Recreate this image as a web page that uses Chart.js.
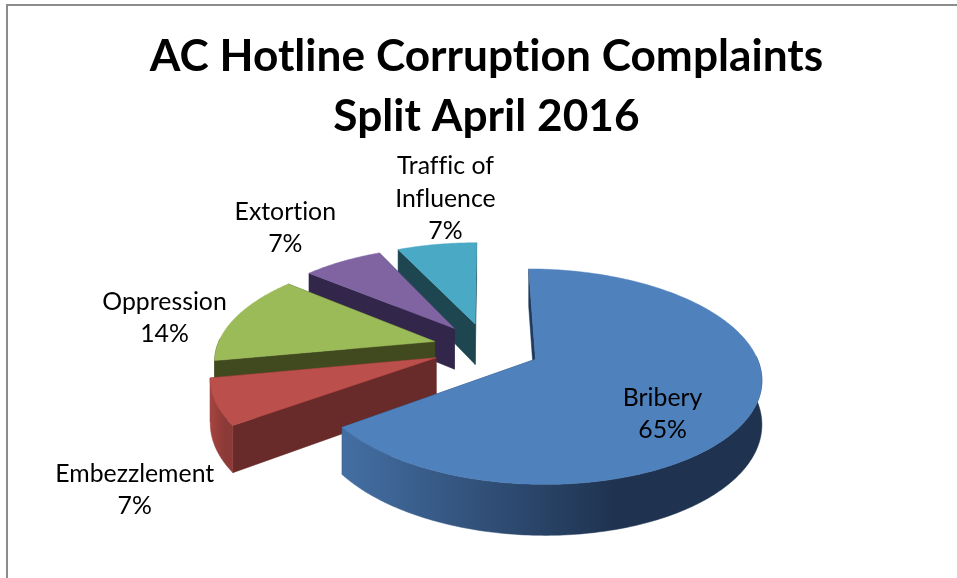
<!DOCTYPE html>
<html>
<head>
<meta charset="utf-8">
<title>AC Hotline Corruption Complaints</title>
<script src="https://cdn.jsdelivr.net/npm/chart.js@4"></script>
<style>
    html, body { margin: 0; background: #fff; overflow: hidden; }
    #frame { position: absolute; left: 6px; top: 4px; right: 0; bottom: 0; border-top: 2px solid #8c8c8c; border-left: 2px solid #8c8c8c; }
    #chart { position: absolute; left: 0; top: 0; }
</style>
</head>
<body>
<div id="frame"></div>
<canvas id="chart" width="957" height="578"></canvas>
<script>
const categories = ['Bribery', 'Embezzlement', 'Oppression', 'Extortion', 'Traffic of Influence'];
const shares = [65, 7, 14, 7, 7];
const labelLines = [['Bribery'], ['Embezzlement'], ['Oppression'], ['Extortion'], ['Traffic of', 'Influence']];

const topColors = ['#4f81bd', '#bb4f4b', '#9bbb59', '#8064a2', '#4aa9c5'];
const cutColors = ['#1f3a5c', '#692a2a', '#414a1f', '#32274a', '#1d4650'];
const wallLight = ['#446fa3', '#a5443f', '#414a1f', '#6c5589', '#3f90a6'];
const wallDark = ['#1f3350', '#8c3a38', '#414a1f', '#574570', '#347789'];

// label block centre, shifted from the outer middle of each slice
const labelShift = [[-100, 1], [-71, 86], [-63, 1], [-53, -31], [10, -43]];

const explode = 54;
const pieRadius = 218;
const depth = 42;
const tilt = 0.464;
const focal = 1370;

function project(arc, angle, radius, z) {
    const mid = (arc.startAngle + arc.endAngle) / 2;
    const X = Math.cos(mid) * explode + Math.cos(angle) * radius;
    const Y = Math.sin(mid) * explode + Math.sin(angle) * radius;
    const s = focal / (focal - Y);
    return [arc.x + X * s, arc.y + Y * tilt * s + z * s];
}

// points along the outer edge; frontOnly keeps the part that faces the viewer
function rimPoints(arc, z, frontOnly) {
    const pts = [];
    const steps = Math.ceil((arc.endAngle - arc.startAngle) * 60);
    for (let i = 0; i <= steps; i++) {
        const a = arc.startAngle + (arc.endAngle - arc.startAngle) * i / steps;
        if (!frontOnly || Math.sin(a) > -0.03) {
            pts.push(project(arc, a, arc.outerRadius, z));
        }
    }
    return pts;
}

function fillPoly(ctx, pts, color) {
    ctx.beginPath();
    pts.forEach((p, i) => i ? ctx.lineTo(p[0], p[1]) : ctx.moveTo(p[0], p[1]));
    ctx.closePath();
    ctx.fillStyle = color;
    ctx.strokeStyle = color;
    ctx.lineWidth = 0.5;
    ctx.fill();
    ctx.stroke();
}

const pie3d = {
    id: 'pie3d',
    beforeDraw(chart) {
        // stops Lato joining "ti" and "ffi"
        chart.ctx.letterSpacing = '0.02px';
    },
    beforeDatasetDraw(chart, args) {
        const ctx = chart.ctx;
        const arcs = args.meta.data;
        // back slices first, the big front one last
        for (let i = arcs.length - 1; i >= 0; i--) {
            const arc = arcs[i];
            const top = rimPoints(arc, 0, false);
            const bottom = rimPoints(arc, depth, false);
            const apex = project(arc, 0, 0, 0);
            const apexLow = project(arc, 0, 0, depth);

            fillPoly(ctx, [apex, top[0], bottom[0], apexLow], cutColors[i]);
            fillPoly(ctx, [apex, top[top.length - 1], bottom[bottom.length - 1], apexLow], cutColors[i]);

            const wallTop = rimPoints(arc, 0, true);
            const wallBottom = rimPoints(arc, depth, true);
            if (wallTop.length > 1) {
                const xs = top.map(p => p[0]);
                const grad = ctx.createLinearGradient(Math.min(...xs), 0, Math.max(...xs), 0);
                grad.addColorStop(0, wallLight[i]);
                grad.addColorStop(0.65, wallDark[i]);
                grad.addColorStop(1, wallDark[i]);
                fillPoly(ctx, wallTop.concat(wallBottom.slice().reverse()), grad);
            }

            fillPoly(ctx, [apex].concat(top), topColors[i]);
        }
        return false;
    },
    afterDatasetsDraw(chart) {
        const ctx = chart.ctx;
        ctx.save();
        ctx.font = '24.8px Lato';
        ctx.fillStyle = '#000';
        ctx.textAlign = 'center';
        ctx.textBaseline = 'middle';
        chart.getDatasetMeta(0).data.forEach((arc, i) => {
            const mid = (arc.startAngle + arc.endAngle) / 2;
            const edge = project(arc, mid, pieRadius + 9, 0);
            const lines = labelLines[i].concat(shares[i] + '%');
            const lineHeight = 32.5;
            lines.forEach((line, n) => {
                const y = edge[1] + labelShift[i][1] + (n - (lines.length - 1) / 2) * lineHeight;
                ctx.fillText(line, edge[0] + labelShift[i][0], y);
            });
        });
        ctx.restore();
    }
};

new Chart(document.getElementById('chart'), {
    type: 'pie',
    data: {
        labels: categories,
        datasets: [{
            data: shares,
            backgroundColor: topColors,
            borderWidth: 0,
            radius: pieRadius
        }]
    },
    options: {
        responsive: false,
        animation: false,
        events: [],
        layout: { padding: { left: 16, top: 0, bottom: 30 } },
        plugins: {
            legend: { display: false },
            tooltip: { enabled: false },
            title: {
                display: true,
                text: ['AC Hotline Corruption Complaints', 'Split April 2016'],
                color: '#000',
                font: { family: 'Lato', size: 44.2, weight: 'bold', lineHeight: 1.36 },
                padding: { top: 27, bottom: 0 }
            }
        }
    },
    plugins: [pie3d]
});
</script>
</body>
</html>
